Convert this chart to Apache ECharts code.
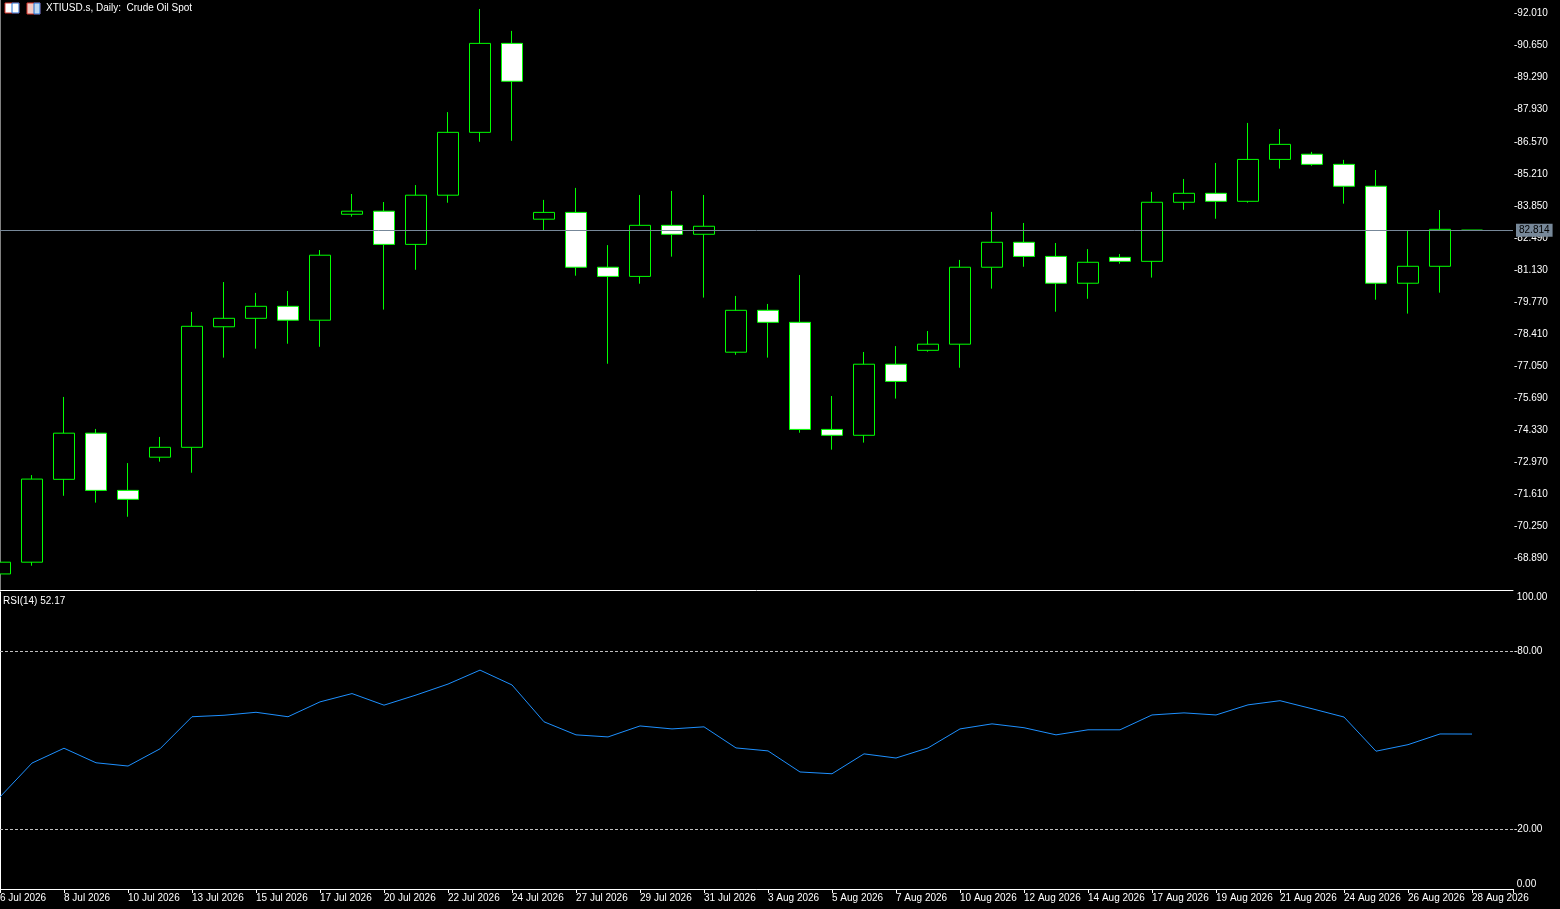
<!DOCTYPE html>
<html>
<head>
<meta charset="utf-8">
<script src="https://cdn.jsdelivr.net/npm/echarts@6/dist/echarts.min.js"></script>
<style>
  html, body { margin: 0; padding: 0; background: #000; }
  #chart { width: 1560px; height: 909px; }
</style>
</head>
<body>
<div id="chart"></div>
<script>
// daily bars, one per category
var dates = [
  '6 Jul 2026', '7 Jul 2026', '8 Jul 2026', '9 Jul 2026', '10 Jul 2026', '12 Jul 2026',
  '13 Jul 2026', '14 Jul 2026', '15 Jul 2026', '16 Jul 2026', '17 Jul 2026', '19 Jul 2026',
  '20 Jul 2026', '21 Jul 2026', '22 Jul 2026', '23 Jul 2026', '24 Jul 2026', '26 Jul 2026',
  '27 Jul 2026', '28 Jul 2026', '29 Jul 2026', '30 Jul 2026', '31 Jul 2026', '2 Aug 2026',
  '3 Aug 2026', '4 Aug 2026', '5 Aug 2026', '6 Aug 2026', '7 Aug 2026', '9 Aug 2026',
  '10 Aug 2026', '11 Aug 2026', '12 Aug 2026', '13 Aug 2026', '14 Aug 2026', '16 Aug 2026',
  '17 Aug 2026', '18 Aug 2026', '19 Aug 2026', '20 Aug 2026', '21 Aug 2026', '23 Aug 2026',
  '24 Aug 2026', '25 Aug 2026', '26 Aug 2026', '27 Aug 2026', '28 Aug 2026'
];
var open = [68.21, 68.71, 72.23, 74.19, 71.76, 73.17, 73.59, 78.71, 79.07, 79.58, 78.99, 83.49,
  83.62, 82.21, 84.30, 86.97, 90.75, 83.28, 83.57, 81.24, 80.85, 83.02, 82.64, 77.63,
  79.41, 78.90, 74.35, 74.10, 77.12, 77.71, 77.97, 81.24, 82.30, 81.70, 80.56, 81.66,
  81.49, 84.00, 84.38, 84.04, 85.82, 86.04, 85.61, 84.68, 80.56, 81.28, 82.81];
var close = [68.71, 72.24, 74.19, 71.76, 71.38, 73.59, 78.73, 79.07, 79.58, 78.99, 81.75, 83.62,
  82.21, 84.30, 86.97, 90.75, 89.14, 83.57, 81.24, 80.85, 83.02, 82.64, 82.98, 79.41,
  78.90, 74.35, 74.10, 77.12, 76.39, 77.97, 81.24, 82.30, 81.70, 80.56, 81.45, 81.49,
  84.00, 84.38, 84.04, 85.82, 86.46, 85.61, 84.68, 80.56, 81.28, 82.85, 82.814];
var low = [68.19, 68.56, 71.53, 71.24, 70.64, 72.98, 72.51, 77.40, 77.78, 77.99, 77.86, 83.39,
  79.44, 81.13, 83.98, 86.57, 86.61, 82.82, 80.88, 77.14, 80.54, 81.69, 79.95, 77.52,
  77.40, 74.21, 73.49, 73.79, 75.66, 77.65, 76.97, 80.33, 81.26, 79.35, 79.90, 81.39,
  80.80, 83.68, 83.30, 83.98, 85.43, 85.55, 83.94, 79.86, 79.27, 80.16, 82.78];
var high = [68.73, 72.41, 75.73, 74.37, 72.92, 74.03, 79.34, 80.61, 80.15, 80.23, 81.97, 84.35,
  84.01, 84.73, 87.83, 92.21, 91.28, 84.10, 84.61, 82.18, 84.31, 84.48, 84.31, 80.02,
  79.68, 80.91, 75.77, 77.64, 77.89, 78.53, 81.55, 83.59, 83.12, 82.27, 82.01, 81.80,
  84.44, 84.99, 85.67, 87.37, 87.11, 86.14, 85.80, 85.37, 82.81, 83.67, 82.82];
var rsi14 = [31.0, 42.4, 47.4, 42.5, 41.4, 47.2, 58.0, 58.5, 59.5, 58.0, 63.0, 65.8,
  61.9, 65.3, 69.0, 73.7, 68.7, 56.3, 51.9, 51.2, 54.9, 53.9, 54.6, 47.5,
  46.5, 39.4, 38.8, 45.5, 44.1, 47.5, 53.9, 55.6, 54.3, 51.9, 53.6, 53.6,
  58.6, 59.3, 58.6, 62.0, 63.4, 60.7, 57.9, 46.4, 48.6, 52.2, 52.17];

var priceTicks = [68.89, 70.25, 71.61, 72.97, 74.33, 75.69, 77.05, 78.41, 79.77, 81.13,
  82.49, 83.85, 85.21, 86.57, 87.93, 89.29, 90.65, 92.01];
var rsiTicks = [0, 20, 80, 100];
var rsiLevels = [80, 20];
var lastPrice = 82.814;

var FONT = 'Liberation Sans';
var WHITE = '#ffffff';
var xMax = 1513 / 32;          // 32 px per bar over the plot width
var priceMax = 92.592;         // visible price range of the top pane
var priceMin = 67.528;

var candles = dates.map(function (d, i) {
  return [i, open[i], close[i], low[i], high[i]];
});
var rsiPoints = rsi14.map(function (v, i) { return [i, v]; });

function dateLabel(v) {
  return (Number.isInteger(v) && v % 2 === 0 && dates[v]) ? dates[v] : '';
}

var chart = echarts.init(document.getElementById('chart'));

var baseX = {
  type: 'value', min: 0, max: xMax, interval: 2,
  axisLine: { show: true, lineStyle: { color: WHITE, width: 1 } },
  axisTick: { show: false },
  axisLabel: { show: false },
  splitLine: { show: false }
};

// the tick mark is drawn as a leading dash, like the terminal does
function priceLabel(v) { return '-' + v.toFixed(3); }
function rsiLabel(v) {
  return (v === 0 || v === 100) ? ' ' + v.toFixed(2) : '-' + v.toFixed(2);
}

chart.setOption({
  backgroundColor: '#000000',
  animation: false,
  textStyle: { fontFamily: FONT },
  title: [
    {
      text: 'XTIUSD.s, Daily:  Crude Oil Spot',
      left: 46, top: 3, padding: 0,
      textStyle: { color: WHITE, fontSize: 10, fontWeight: 'normal', fontFamily: FONT }
    },
    {
      text: 'RSI(14) ' + rsi14[rsi14.length - 1].toFixed(2),
      left: 3, top: 596, padding: 0,
      textStyle: { color: WHITE, fontSize: 10, fontWeight: 'normal', fontFamily: FONT }
    }
  ],
  graphic: [
    { type: 'rect', x: 5, y: 3, shape: { width: 14, height: 10 },
      style: { fill: '#fff', stroke: '#d9342b', lineWidth: 1 } },
    { type: 'rect', x: 12, y: 3, shape: { width: 7, height: 10 },
      style: { fill: '#fff', stroke: '#1f6fd1', lineWidth: 1 } },
    { type: 'rect', x: 27, y: 3, shape: { width: 13, height: 11 },
      style: { fill: '#f2c9c2', stroke: '#d9342b', lineWidth: 1 } },
    { type: 'rect', x: 34, y: 3, shape: { width: 6, height: 11 },
      style: { fill: '#bcd8f2', stroke: '#1f6fd1', lineWidth: 1 } }
  ],
  grid: [
    { left: 0, right: 47, top: 0, height: 590, outerBoundsMode: 'none', containLabel: false },
    { left: 0, right: 47, top: 592, height: 297, outerBoundsMode: 'none', containLabel: false }
  ],
  xAxis: [
    Object.assign({}, baseX, { gridIndex: 0, position: 'bottom' }),
    Object.assign({}, baseX, {
      gridIndex: 1, position: 'bottom',
      axisTick: { show: true, length: 4, lineStyle: { color: WHITE } },
      axisLabel: {
        show: true, color: WHITE, fontSize: 10, fontFamily: FONT,
        align: 'left', margin: 4, formatter: dateLabel
      }
    }),
    Object.assign({}, baseX, { gridIndex: 1, position: 'top' })
  ],
  yAxis: [
    {
      gridIndex: 0, type: 'value', position: 'right',
      min: priceMin, max: priceMax,
      axisLine: { show: true, lineStyle: { color: WHITE } },
      axisTick: { show: false },
      axisLabel: {
        color: WHITE, fontSize: 10, fontFamily: FONT, margin: 1,
        customValues: priceTicks, formatter: priceLabel
      },
      splitLine: { show: false }
    },
    {
      gridIndex: 1, type: 'value', position: 'right', min: 0, max: 100,
      axisLine: { show: true, lineStyle: { color: WHITE } },
      axisTick: { show: false },
      axisLabel: {
        color: WHITE, fontSize: 10, fontFamily: FONT, margin: 1,
        customValues: rsiTicks,
        verticalAlignMinLabel: 'bottom', verticalAlignMaxLabel: 'top',
        formatter: rsiLabel
      },
      splitLine: { show: false }
    },
    {
      gridIndex: 0, type: 'value', position: 'left', min: 0, max: 1,
      axisLine: { show: true, lineStyle: { color: '#808080' } },
      axisTick: { show: false }, axisLabel: { show: false }, splitLine: { show: false }
    },
    {
      gridIndex: 1, type: 'value', position: 'left', min: 0, max: 1,
      axisLine: { show: true, lineStyle: { color: WHITE } },
      axisTick: { show: false }, axisLabel: { show: false }, splitLine: { show: false }
    }
  ],
  series: [
    {
      type: 'candlestick',
      xAxisIndex: 0, yAxisIndex: 0,
      data: candles,
      encode: { x: 0, y: [1, 2, 3, 4] },
      barWidth: 21,
      itemStyle: {
        color: '#000000', color0: '#ffffff',
        borderColor: '#00ff00', borderColor0: '#00ff00', borderWidth: 1
      },
      markLine: {
        silent: true, symbol: 'none',
        lineStyle: { color: '#778899', width: 1, type: 'solid' },
        label: {
          show: true, position: 'end', distance: 3,
          color: '#000000', backgroundColor: '#778899',
          fontSize: 10, fontFamily: FONT, padding: [2, 3, 1, 3],
          formatter: function () { return lastPrice.toFixed(3); }
        },
        data: [{ yAxis: lastPrice }]
      }
    },
    {
      type: 'line',
      xAxisIndex: 1, yAxisIndex: 1,
      data: rsiPoints,
      showSymbol: false,
      lineStyle: { color: '#1e90ff', width: 1 },
      markLine: {
        silent: true, symbol: 'none',
        lineStyle: { color: '#c0c0c0', width: 1, type: [3, 2] },
        label: { show: false },
        data: rsiLevels.map(function (v) { return { yAxis: v }; })
      }
    }
  ]
});
</script>
</body>
</html>
